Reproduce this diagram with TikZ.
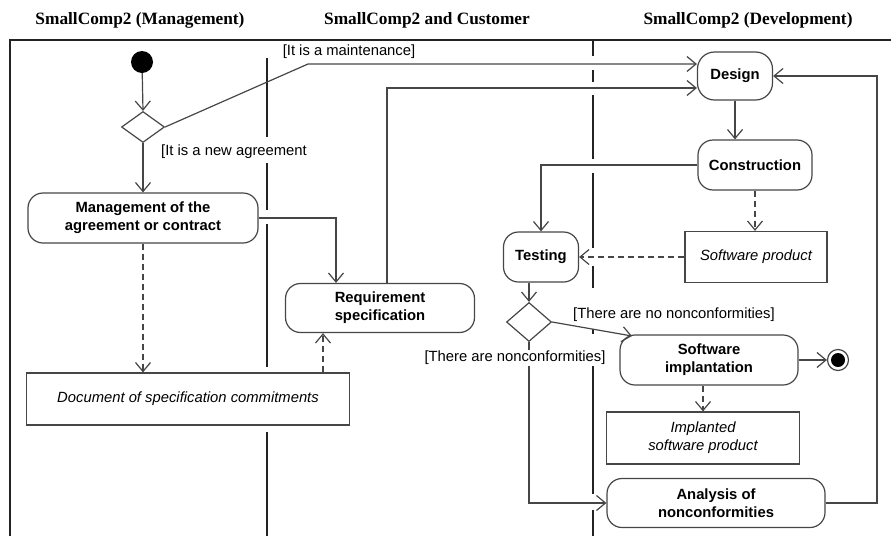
\documentclass[tikz,border=0pt]{standalone}
\usepackage{fontspec}
\setmainfont{Liberation Sans}
\newfontfamily\headfont{Liberation Serif}
\usepackage{xcolor}
\usepackage{tikz}
\usetikzlibrary{arrows.meta,shapes.geometric}
\definecolor{linegray}{RGB}{70, 70, 70}
\definecolor{lanegray}{RGB}{35, 35, 35}

\begin{document}
\begin{tikzpicture}[x=1pt, y=-1pt,
  act/.style={draw=linegray, line width=1.2pt, rounded corners=15pt, fill=white, align=center,
    font=\bfseries\fontsize{14.8}{18}\selectfont, inner sep=2pt},
  obj/.style={draw=linegray, line width=1.2pt, fill=white, align=center,
    font=\itshape\fontsize{14.8}{18}\selectfont, inner sep=2pt},
  decision/.style={diamond, draw=linegray, line width=1.2pt, fill=white, inner sep=0pt},
  guard/.style={fill=white, inner sep=1pt, font=\fontsize{14.8}{17}\selectfont},
  flow/.style={draw=linegray, line width=1.2pt, -{Straight Barb[length=9pt, width=15pt]}},
  objflow/.style={flow, dash pattern=on 6pt off 4pt},
  lane/.style={draw=lanegray, line width=2pt},
  lanehead/.style={font=\headfont\bfseries\fontsize{17.3}{19}\selectfont}]
  \useasboundingbox (0,0) rectangle (891,536);
  % Swimlane headers and frame
  \node[lanehead] (hdMgmt) at (140,20) {SmallComp2 (Management)};
  \node[lanehead] (hdCust) at (427,20) {SmallComp2 and Customer};
  \node[lanehead] (hdDev) at (748,20) {SmallComp2 (Development)};
  \draw[lane] (891,40) -- (10,40) -- (10,536);
  \foreach \ya/\yb in {58/137, 163/210, 224/367, 432/536}
    \draw[lane] (267,\ya) -- (267,\yb);
  \foreach \ya/\yb in {40/56, 70/82, 95/159, 173/248, 266/288, 329/334, 350/494, 510/536}
    \draw[lane] (593,\ya) -- (593,\yb);
  % Management lane
  \node[circle, fill=black, minimum size=22pt, inner sep=0pt] (init) at (142,62) {};
  \node[decision, minimum width=43pt, minimum height=31pt] (dmdStart) at (143,127) {};
  \node[act, minimum width=230pt, minimum height=50pt] (mgmt) at (143,218) {Management of the\\agreement or contract};
  \node[obj, minimum width=323pt, minimum height=52pt] (doc) at (188,399) {Document of specification commitments};
  % Customer lane
  \node[act, minimum width=189pt, minimum height=49pt] (req) at (380,308) {Requirement\\specification};
  % Development lane
  \node[act, minimum width=75pt, minimum height=48pt, rounded corners=17pt] (design) at (735,76) {Design};
  \node[act, minimum width=114pt, minimum height=50pt] (constr) at (755,165) {Construction};
  \node[obj, minimum width=142pt, minimum height=51pt] (swprod) at (756,257) {Software product};
  \node[act, minimum width=75pt, minimum height=50pt] (test) at (541,257) {Testing};
  \node[decision, minimum width=45pt, minimum height=39pt] (dmdTest) at (529,322) {};
  \node[act, minimum width=178pt, minimum height=50pt] (impl) at (709,360) {Software\\implantation};
  \node[circle, draw=linegray, line width=1.2pt, minimum size=21pt, inner sep=0pt] (final) at (838,360) {};
  \fill (final.center) circle (7);
  \node[obj, minimum width=193pt, minimum height=52pt] (implprod) at (703,438) {Implanted\\software product};
  \node[act, minimum width=218pt, minimum height=49pt] (anal) at (716,503) {Analysis of\\nonconformities};
  % Control flows
  \coordinate (mntTurn) at (308,64);
  \coordinate (reqUp) at (387,88);
  \coordinate (mgmtTurn) at (336,218);
  \coordinate (reqObj) at (323,0);
  \coordinate (loopR) at (877,0);
  \coordinate (implIn) at (632,336);
  \draw[flow] (init) -- (dmdStart.north);
  \draw[flow] (dmdStart.east) -- (mntTurn) -- (design.west |- mntTurn);
  \draw[flow] (dmdStart.south) -- (mgmt.north);
  \draw[flow] (mgmt.east) -- (mgmtTurn) -- (req.north -| mgmtTurn);
  \draw[flow] (req.north -| reqUp) -- (reqUp) -- (design.west |- reqUp);
  \draw[flow] (design.south) -- (constr.north -| design.south);
  \draw[flow] (constr.west) -| (test.north);
  \draw[flow] (test.south -| dmdTest.north) -- (dmdTest.north);
  \draw[flow] (dmdTest.east) -- (implIn);
  \draw[flow] (dmdTest.south) |- (anal.west);
  \draw[flow] (impl.east) -- (final.west);
  \draw[flow] (anal.east) -| (loopR |- design.east) -- (design.east);
  % Object flows
  \draw[objflow] (mgmt.south) -- (doc.north -| mgmt.south);
  \draw[objflow] (doc.north -| reqObj) -- (req.south -| reqObj);
  \draw[objflow] (constr.south) -- (swprod.north -| constr.south);
  \draw[objflow] (swprod.west) -- (test.east);
  \draw[objflow] (impl.south -| implprod.north) -- (implprod.north);
  % Guards
  \node[guard, fill=none] (gMnt) at (349,52) {[It is a maintenance]};
  \node[guard, anchor=west] (gNew) at (160,152) {[It is a new agreement};
  \node[guard, anchor=west] (gNoNc) at (572,315) {[There are no nonconformities]};
  \node[guard] (gNc) at (515,358) {[There are nonconformities]};
\end{tikzpicture}
\end{document}
